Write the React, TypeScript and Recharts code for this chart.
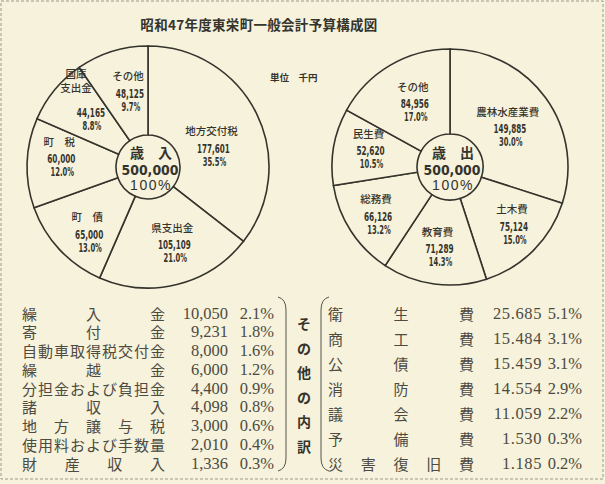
import React from "react";
import { PieChart, Pie, Cell } from "recharts";

// 歳入 (revenue)
const revenueNames = ["地方交付税", "県支出金", "町　債", "町　税", "国庫\n支出金", "その他"];
const revenueValues = [177601, 105109, 65000, 60000, 44165, 48125];
const revenuePct = ["35.5%", "21.0%", "13.0%", "12.0%", "8.8%", "9.7%"];

// 歳出 (expenditure)
const expenseNames = ["農林水産業費", "土木費", "教育費", "総務費", "民生費", "その他"];
const expenseValues = [149885, 75124, 71289, 66126, 52620, 84956];
const expensePct = ["30.0%", "15.0%", "14.3%", "13.2%", "10.5%", "17.0%"];

// その他の内訳
const otherRevNames = ["繰入金", "寄付金", "自動車取得税交付金", "繰越金", "分担金および負担金", "諸収入", "地方譲与税", "使用料および手数量", "財産収入"];
const otherRevValues = ["10,050", "9,231", "8,000", "6,000", "4,400", "4,098", "3,000", "2,010", "1,336"];
const otherRevPct = ["2.1%", "1.8%", "1.6%", "1.2%", "0.9%", "0.8%", "0.6%", "0.4%", "0.3%"];

const otherExpNames = ["衛生費", "商工費", "公債費", "消防費", "議会費", "予備費", "災害復旧費"];
const otherExpValues = ["25.685", "15.484", "15.459", "14.554", "11.059", "1.530", "1.185"];
const otherExpPct = ["5.1%", "3.1%", "3.1%", "2.9%", "2.2%", "0.3%", "0.2%"];

const totalLabel = "500,000";

const revenueData = revenueNames.map((name, i) => ({ name, value: revenueValues[i], pct: revenuePct[i] }));
const expenseData = expenseNames.map((name, i) => ({ name, value: expenseValues[i], pct: expensePct[i] }));

const BG = "#f6f2dc";
const INK = "#35342c";
const SOFT = "#4d4b41";
const RAD = Math.PI / 180;
const JP = "'Noto Sans CJK JP', sans-serif";
const NUM = "'DejaVu Sans', sans-serif";
const SERIF = "'Liberation Serif', serif";

// label placement tweaks (radius from centre, angle shift in degrees clockwise)
const revLabelR = [66, 82, 91, 89, 80, 76];
const revLabelShift = [10, -3, -5, 3, 3, 2];
const expLabelR = [69, 86, 83, 89, 83, 73];
const expLabelShift = [3, -1, 1, -1, 1, 0];

// squeezed bold digits, like the old typewriter numerals
function Num({ x, y, text, size = 11.5, per = 4.7 }) {
  return (
    <text x={x} y={y} textAnchor="middle" dominantBaseline="central" fontFamily={NUM} fontWeight="bold"
      fontSize={size} textLength={text.length * per} lengthAdjust="spacingAndGlyphs" fill={INK}>
      {text}
    </text>
  );
}

const makeLabel = (radii, shifts) => (props) => {
  const { cx, cy, midAngle, index, payload } = props;
  const a = (midAngle - shifts[index]) * RAD;
  const x = cx + radii[index] * Math.cos(a);
  const y = cy - radii[index] * Math.sin(a);
  const lines = String(payload.name).split("\n");
  const multi = lines.length > 1;
  return (
    <g>
      {lines.map((l, i) => (
        <text key={i} x={multi ? x - 13 : x} y={y - (multi ? 26 : 18) - 14 * (lines.length - 1 - i)}
          textAnchor="middle" dominantBaseline="central" fontFamily={JP} fontWeight={500} fontSize={10.5} fill={INK}>
          {l}
        </text>
      ))}
      <Num x={x + 2} y={y} text={payload.value.toLocaleString("en-US")} />
      <Num x={x + 3} y={y + 13} text={payload.pct} />
    </g>
  );
};

// spread the characters of a label across a fixed width
function Spread({ text, x, width, y, size }) {
  const chars = Array.from(text);
  const step = chars.length > 1 ? (width - size) / (chars.length - 1) : 0;
  return (
    <>
      {chars.map((c, i) => (
        <text key={i} x={x + i * step} y={y} dominantBaseline="central" fontFamily={JP} fontSize={size} fill={SOFT}>
          {c}
        </text>
      ))}
    </>
  );
}

function Center({ x, y, title }) {
  return (
    <g fill={INK}>
      <text x={x + 3} y={y - 15} textAnchor="middle" dominantBaseline="central" fontFamily={JP} fontWeight="bold" fontSize={14}>
        {title}
      </text>
      <text x={x + 2} y={y + 3} textAnchor="middle" dominantBaseline="central" fontFamily={NUM}
        fontWeight="bold" fontSize={14} textLength={57} lengthAdjust="spacingAndGlyphs">
        {totalLabel}
      </text>
      <text x={x + 3} y={y + 18} textAnchor="middle" dominantBaseline="central" fontFamily="'Liberation Sans', sans-serif"
        fontSize={14} letterSpacing={1.5}>
        100%
      </text>
    </g>
  );
}

const verticalTitle = Array.from("その他の内訳");

export default function App() {
  return (
    <div style={{ position: "absolute", left: 0, top: 0, width: 605, height: 484, background: BG, overflow: "hidden" }}>
      <PieChart width={605} height={484} margin={{ top: 0, right: 0, bottom: 0, left: 0 }}>
        <Pie data={revenueData} dataKey="value" nameKey="name" cx={148} cy={167} outerRadius={121} innerRadius={32}
          startAngle={90} endAngle={-270} stroke={INK} strokeWidth={1.6} isAnimationActive={false}
          label={makeLabel(revLabelR, revLabelShift)} labelLine={false}>
          {revenueData.map((d, i) => (
            <Cell key={i} fill={BG} />
          ))}
        </Pie>
        <Pie data={expenseData} dataKey="value" nameKey="name" cx={450} cy={167} outerRadius={118} innerRadius={33}
          startAngle={90} endAngle={-270} stroke={INK} strokeWidth={1.6} isAnimationActive={false}
          label={makeLabel(expLabelR, expLabelShift)} labelLine={false}>
          {expenseData.map((d, i) => (
            <Cell key={i} fill={BG} />
          ))}
        </Pie>
      </PieChart>
      <svg width={605} height={484} style={{ position: "absolute", left: 0, top: 0, pointerEvents: "none" }}>
        <rect x={1} y={1} width={602} height={478} fill="none" stroke="#9a988a" strokeDasharray="3 2" />
        <text x={259} y={24} textAnchor="middle" dominantBaseline="central" fontFamily={JP} fontWeight="bold"
          fontSize={13.5} letterSpacing={0.3} fill={INK}>
          昭和47年度東栄町一般会計予算構成図
        </text>
        <text x={270} y={77} dominantBaseline="central" fontFamily={JP} fontWeight="bold" fontSize={9.5} fill={INK}>
          単位　千円
        </text>
        <Center x={148} y={167} title="歳　入" />
        <Center x={450} y={167} title="歳　出" />

        {otherRevNames.map((n, i) => {
          const y = 313 + i * 18.75;
          return (
            <g key={n}>
              <Spread text={n} x={22} width={143} y={y} size={15} />
              <text x={228} y={y} textAnchor="end" dominantBaseline="central" fontFamily={SERIF}
                fontSize={16.5} fill={SOFT}>
                {otherRevValues[i]}
              </text>
              <text x={274} y={y} textAnchor="end" dominantBaseline="central" fontFamily={SERIF}
                fontSize={16.5} fill={SOFT}>
                {otherRevPct[i]}
              </text>
            </g>
          );
        })}

        {otherExpNames.map((n, i) => {
          const y = 313 + i * 25;
          return (
            <g key={n}>
              <Spread text={n} x={328} width={146} y={y} size={15} />
              <text x={542} y={y} textAnchor="end" dominantBaseline="central" fontFamily={SERIF}
                fontSize={16.5} letterSpacing={0.6} fill={SOFT}>
                {otherExpValues[i]}
              </text>
              <text x={582} y={y} textAnchor="end" dominantBaseline="central" fontFamily={SERIF}
                fontSize={16.5} fill={SOFT}>
                {otherExpPct[i]}
              </text>
            </g>
          );
        })}

        <path d="M278 297 Q286 299 286 310 L286 458 Q286 469 278 471" fill="none" stroke="#55544a" strokeWidth={1} />
        <path d="M329 297 Q321 299 321 310 L321 458 Q321 469 329 471" fill="none" stroke="#55544a" strokeWidth={1} />
        {verticalTitle.map((c, i) => (
          <text key={i} x={304} y={323 + i * 24.6} textAnchor="middle" dominantBaseline="central" fontFamily={JP}
            fontWeight="bold" fontSize={14} fill={INK}>
            {c}
          </text>
        ))}
      </svg>
    </div>
  );
}
